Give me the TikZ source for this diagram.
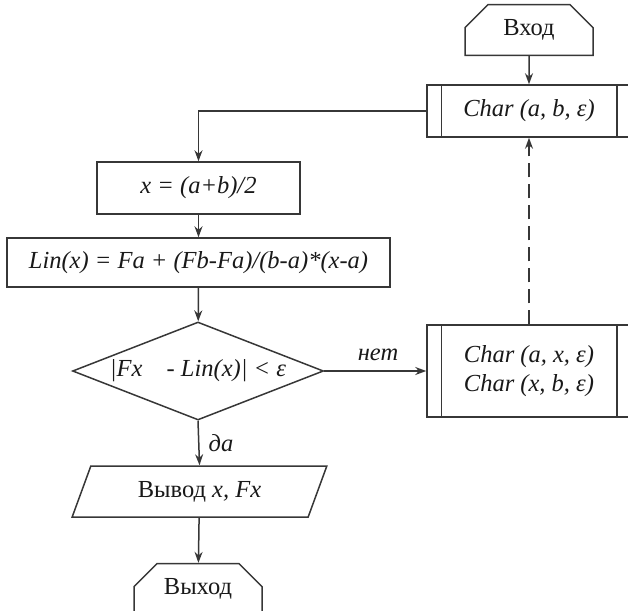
\documentclass[tikz,border=0pt]{standalone}
\usepackage{fontspec}
\setmainfont{Liberation Serif}
\usetikzlibrary{shapes.geometric,shapes.misc,arrows.meta}

\definecolor{linegray}{RGB}{55,55,55}
\definecolor{textgray}{RGB}{25,25,25}

\tikzset{every picture/.style={line width=1.5pt}}
\tikzset{
  every node/.style={font=\fontsize{24.5}{29}\selectfont, text=textgray},
  blok/.style={draw=linegray, rectangle, inner sep=0pt},
  term/.style={draw=linegray, chamfered rectangle, chamfered rectangle corners={north west,north east},
    chamfered rectangle xsep=8, chamfered rectangle ysep=15, inner sep=0pt, minimum width=128, minimum height=50},
  vvod/.style={draw=linegray, trapezium, trapezium left angle=63, trapezium right angle=117,
    trapezium stretches=true, inner sep=0pt, minimum width=255, minimum height=51},
  uslovie/.style={draw=linegray, diamond, shape aspect=2.56, inner sep=0pt, minimum width=251, minimum height=98},
  strelka/.style={draw=linegray, -{Stealth[length=11,width=8]}}
}

\begin{document}
\begin{tikzpicture}[x=1pt,y=1pt,yscale=-1,xscale=1]
		\clip (0,0) rectangle (628,610);

		% Terminator
		\node[term] (vhod) at (529,30) {Вход};
		% Subprocess
		\node[blok, minimum width=204, minimum height=52] (char1) at (529,111) {\textit{Char (a, b, ε)}};
		\draw[linegray] ([xshift=15]char1.north west) -- ([xshift=15]char1.south west);
		\draw[linegray] ([xshift=-15]char1.north east) -- ([xshift=-15]char1.south east);
		% Process
		\node[blok, minimum width=203, minimum height=52] (mid) at (198.5,188) {\textit{x = (a+b)/2}};
		% Process
		\node[blok, minimum width=383, minimum height=49] (lin) at (198.5,262.5) {\textit{Lin(x) = Fa + (Fb-Fa)/(b-a)*(x-a)}};
		% Decision
		\node[uslovie] (cond) at (198,371) {\textit{|Fx\hspace{18pt} - Lin(x)| < ε}};
		% Subprocess
		\node[blok, align=center, minimum width=204, minimum height=92] (char2) at (529,371) {\textit{Char (a, x, ε)}\\\textit{Char (x, b, ε)}};
		\draw[linegray] ([xshift=15]char2.north west) -- ([xshift=15]char2.south west);
		\draw[linegray] ([xshift=-15]char2.north east) -- ([xshift=-15]char2.south east);
		% Output
		\node[vvod] (vyvod) at (199.5,491.5) {Вывод \textit{x, Fx}};
		% Terminator
		\node[term] (vyhod) at (198,589) {Выход};

		% Text Node
		\node (net) at (378,355) {\textit{нет}};
		% Text Node
		\node (da) at (221,443) {\textit{да}};

		%Connectors
		\draw[strelka] (vhod) -- (char1);
		\draw[strelka] (char1.west) -| (mid.north);
		\draw[strelka] (mid) -- (lin);
		\draw[strelka] (lin) -- (cond);
		\draw[strelka] (cond.east) -- (char2.west);
		\draw[strelka] (cond.south) -- (vyvod.north);
		\draw[strelka] (vyvod) -- (vyhod);
		\draw[strelka, dash pattern=on 14pt off 7pt] (char2) -- (char1);

\end{tikzpicture}
\end{document}
